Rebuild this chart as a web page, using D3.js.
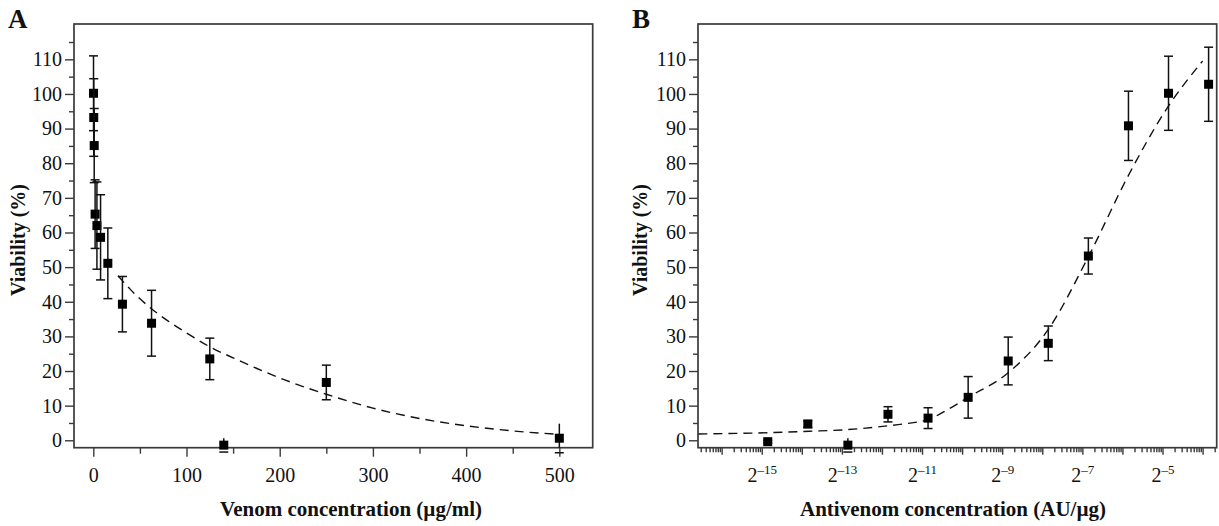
<!DOCTYPE html>
<html>
<head>
<meta charset="utf-8">
<script src="https://cdn.jsdelivr.net/npm/d3@7"></script>
<style>
  body { margin: 0; background: #fff; }
  text { font-family: "Liberation Serif", "Times New Roman", serif; fill: #111; }
</style>
</head>
<body>
<svg id="chart" width="1219" height="526"></svg>
<script>
// ---- panel A: venom dose response ----
var venomConc = [0.24, 0.49, 0.98, 1.95, 3.9, 7.8, 15.6, 31.25, 62.5, 125, 140, 250, 500];
var venomViab = [100.2, 93.2, 85.1, 65.3, 62.0, 58.6, 51.1, 39.3, 33.8, 23.5, -1.4, 16.7, 0.6];
var venomErr = [10.8, 11.2, 10.7, 9.9, 12.6, 12.3, 10.2, 8.0, 9.5, 6.0, 2.0, 5.0, 4.2];
var venomFitX = [26.5, 40, 60, 80, 100, 125, 150, 175, 200, 250, 300, 350, 400, 450, 500];
var venomFitY = [47.5, 43.5, 38.5, 34.5, 31, 27, 23.8, 20.8, 18, 13.3, 9.3, 6.3, 4.2, 2.7, 1.7];
var venomTicks = [0, 100, 200, 300, 400, 500];
var venomMinor = [50, 150, 250, 350, 450];

// ---- panel B: antivenom rescue (log2 axis) ----
var antiConc = [0.00003386, 0.00006772, 0.0001354, 0.0002709, 0.0005418, 0.001084,
                0.002167, 0.004334, 0.008668, 0.01734, 0.03467, 0.06934];
var antiViab = [-0.4, 4.7, -1.4, 7.5, 6.4, 12.4, 22.9, 28.0, 53.2, 90.8, 100.2, 102.8];
var antiErr = [0.4, 1.0, 2.0, 2.2, 3.0, 6.0, 6.9, 5.0, 5.2, 10.0, 10.7, 10.7];
var antiFitX = [0.000010208, 0.000034098, 0.00006963, 0.00013639, 0.00027278, 0.0003831,
                0.00054556, 0.0007715, 0.0010836, 0.0021672, 0.0043344, 0.0086688,
                0.017338, 0.03396, 0.0625];
var antiFitY = [1.8, 2.2, 2.6, 3.1, 4.2, 4.9, 6.0, 9.0, 12.4, 19.5, 32, 53, 76.5, 96, 109.5];
var antiPow = [-16, -15, -14, -13, -12, -11, -10, -9, -8, -7, -6, -5, -4];
var antiLabelPow = [-15, -13, -11, -9, -7, -5];

var viabTicks = [0, 10, 20, 30, 40, 50, 60, 70, 80, 90, 100, 110];
var viabMinor = [5, 15, 25, 35, 45, 55, 65, 75, 85, 95, 105, 115];

var svg = d3.select("#chart");
var frameColor = "#3a3a3a";
var serif = "'Liberation Serif', 'Times New Roman', serif";

function drawPanel(p) {
    var g = svg.append("g");
    var x = p.x, y = p.y;
    var left = x.range()[0], right = x.range()[1];
    var top = y.range()[1], bottom = y.range()[0];

    // y axis
    g.append("g").attr("transform", "translate(" + left + ",0)")
        .call(d3.axisLeft(y).tickValues(viabMinor).tickSize(5).tickFormat(""));
    g.append("g").attr("transform", "translate(" + left + ",0)")
        .attr("font-family", serif)
        .call(d3.axisLeft(y).tickValues(viabTicks).tickSize(9).tickPadding(3))
        .attr("font-family", serif).attr("font-size", 20);

    // x axis
    g.append("g").attr("transform", "translate(0," + bottom + ")")
        .call(d3.axisBottom(x).tickValues(p.minor).tickSize(p.minorLen).tickFormat(""));
    var xa = g.append("g").attr("transform", "translate(0," + bottom + ")")
        .call(d3.axisBottom(x).tickValues(p.major).tickSize(p.majorLen)
            .tickPadding(20 - p.majorLen).tickFormat(p.fmt || null))
        .attr("font-family", serif).attr("font-size", 20);
    if (p.labelFn) xa.selectAll(".tick text").each(p.labelFn);

    g.selectAll(".domain").remove();
    g.selectAll(".tick line").attr("stroke", frameColor).attr("stroke-width", 1.4);

    g.append("rect")
        .attr("x", left).attr("y", top)
        .attr("width", right - left).attr("height", bottom - top)
        .attr("fill", "none").attr("stroke", frameColor).attr("stroke-width", 1.7);

    // fitted curve
    var fit = p.fitX.map(function (v, i) { return [v, p.fitY[i]]; });
    g.append("path")
        .datum(fit)
        .attr("fill", "none").attr("stroke", "#111").attr("stroke-width", 1.4)
        .attr("stroke-dasharray", "9,6")
        .attr("d", d3.line()
            .x(function (d) { return x(d[0]); })
            .y(function (d) { return y(d[1]); })
            .curve(d3.curveMonotoneX));

    // error bars and points
    var pts = p.cx.map(function (v, i) { return { c: v, v: p.cy[i], e: p.err[i] }; });
    var bars = g.selectAll(".eb").data(pts).enter().append("g");
    bars.append("line")
        .attr("x1", function (d) { return x(d.c); }).attr("x2", function (d) { return x(d.c); })
        .attr("y1", function (d) { return Math.min(y(d.v - d.e), bottom); })
        .attr("y2", function (d) { return y(d.v + d.e); })
        .attr("stroke", "#111").attr("stroke-width", 1.5);
    [1, -1].forEach(function (s) {
        bars.filter(function (d) { return y(d.v - s * d.e) <= bottom; })
            .append("line")
            .attr("x1", function (d) { return x(d.c) - 4.5; })
            .attr("x2", function (d) { return x(d.c) + 4.5; })
            .attr("y1", function (d) { return y(d.v + s * d.e); })
            .attr("y2", function (d) { return y(d.v + s * d.e); })
            .attr("stroke", "#111").attr("stroke-width", 1.5);
    });
    bars.append("rect")
        .attr("x", function (d) { return x(d.c) - 4.5; })
        .attr("y", function (d) { return y(d.v) - 4.5; })
        .attr("width", 9).attr("height", 9)
        .attr("fill", "#000");

    // titles
    svg.append("text").attr("x", p.xTitleX).attr("y", 516)
        .attr("text-anchor", "middle").style("font-size", "21px").style("font-weight", "bold")
        .text(p.xTitle);
    svg.append("text")
        .attr("transform", "translate(" + p.yTitleX + ",240) rotate(-90)")
        .attr("text-anchor", "middle").style("font-size", "20px").style("font-weight", "bold")
        .text("Viability (%)");
    svg.append("text").attr("x", p.letterX).attr("y", 28)
        .style("font-size", "27px").style("font-weight", "bold")
        .text(p.letter);
}

var yA = d3.scaleLinear().domain([-2.14, 120.2]).range([447.7, 24]);
var xA = d3.scaleLinear().domain([-20.7, 535.8]).range([74, 592.7]);

drawPanel({
    x: xA, y: yA,
    major: venomTicks, minor: venomMinor, majorLen: 9, minorLen: 6,
    cx: venomConc, cy: venomViab, err: venomErr,
    fitX: venomFitX, fitY: venomFitY,
    xTitle: "Venom concentration (\u00b5g/ml)", xTitleX: 351, yTitleX: 25,
    letter: "A", letterX: 8
});

var yB = d3.scaleLinear().domain([-2.14, 120.2]).range([447.7, 24]);
var xB = d3.scaleLog().base(2)
    .domain([Math.pow(2, -16.59), Math.pow(2, -3.648)]).range([698, 1216.7]);

var bMajor = antiPow.map(function (k) { return Math.pow(2, k); });
var bMinor = [];
[-17].concat(antiPow).forEach(function (k) {
    for (var m = 2; m <= 9; m++) {
        var v = Math.pow(2, k + Math.log10(m));
        if (v > xB.domain()[0] && v < xB.domain()[1]) bMinor.push(v);
    }
});

drawPanel({
    x: xB, y: yB,
    major: bMajor, minor: bMinor, majorLen: 7, minorLen: 4.5,
    fmt: function () { return ""; },
    labelFn: function (d) {
        var k = Math.round(Math.log2(d));
        if (antiLabelPow.indexOf(k) < 0) return;
        var t = d3.select(this);
        t.append("tspan").text("2");
        t.append("tspan").attr("dy", -8).style("font-size", "13px").text("\u2013" + (-k));
    },
    cx: antiConc, cy: antiViab, err: antiErr,
    fitX: antiFitX, fitY: antiFitY,
    xTitle: "Antivenom concentration (AU/\u00b5g)", xTitleX: 953, yTitleX: 647,
    letter: "B", letterX: 632
});
</script>
</body>
</html>
